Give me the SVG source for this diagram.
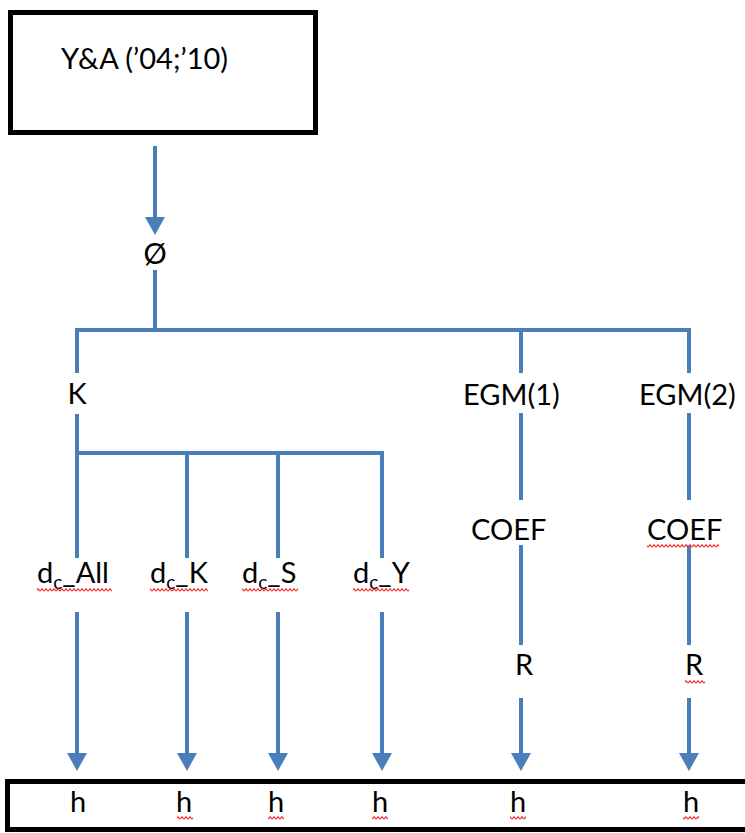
<svg xmlns="http://www.w3.org/2000/svg" width="745" height="833" viewBox="0 0 745 833">
<style>
.box{fill:#fff;stroke:#000;stroke-width:5}
.ln{fill:none;stroke:#4a7ebb;stroke-width:4}
.ar{marker-end:url(#ah)}
text{font-family:Lato,"Liberation Sans",sans-serif;font-size:29px;fill:#000}
.c{text-anchor:middle}
.sq{fill:url(#sq)}
</style>
<defs>
<marker id="ah" viewBox="0 0 9 10" markerWidth="4.5" markerHeight="5" refX="7" refY="5" orient="auto">
<path d="M0,0 L9,5 L0,10 z" fill="#4a7ebb"/>
</marker>
<pattern id="sq" width="4" height="4" patternUnits="userSpaceOnUse">
<path d="M0,3.2 L2,0.8 L4,3.2" fill="none" stroke="#f03a3a" stroke-width="1.3"/>
</pattern>
</defs>
<g id="connectors">
<path class="ln ar" d="M155,146 V231"/>
<path class="ln" d="M155,270 V330"/>
<path class="ln" d="M77,373 V330 H689 V373"/>
<path class="ln" d="M521,330 V373"/>
<path class="ln" d="M77,414 V558"/>
<path class="ln" d="M77,453 H382 V558"/>
<path class="ln" d="M187,453 V558"/>
<path class="ln" d="M278,453 V558"/>
<path class="ln ar" d="M77,612 V767"/>
<path class="ln ar" d="M187,612 V767"/>
<path class="ln ar" d="M278,612 V767"/>
<path class="ln ar" d="M382,612 V767"/>
<path class="ln" d="M521,413 V500"/>
<path class="ln" d="M689,413 V500"/>
<path class="ln" d="M521,545 V645"/>
<path class="ln" d="M689,545 V645"/>
<path class="ln ar" d="M521,698 V767"/>
<path class="ln ar" d="M689,698 V767"/>
</g>
<g id="node-ya">
<rect class="box" x="10.5" y="12.5" width="305" height="120"/>
<text x="61" y="69">Y&amp;A (’04;’10)</text>
</g>
<g id="node-phi"><text class="c" x="155" y="264">Ø</text></g>
<g id="node-k"><text class="c" x="77" y="404">K</text></g>
<g id="node-egm1"><text x="463" y="405">EGM(1)</text></g>
<g id="node-egm2"><text x="639" y="405">EGM(2)</text></g>
<g id="node-coef1"><text x="471" y="540">COEF</text></g>
<g id="node-coef2"><text x="647" y="540">COEF</text><rect class="sq" x="647" y="544" width="72" height="4"/></g>
<g id="node-r1"><text x="515" y="675">R</text></g>
<g id="node-r2"><text x="685" y="675">R</text><rect class="sq" x="685" y="680" width="20" height="4"/></g>
<g id="node-dcall"><text x="37" y="583">d<tspan font-size="19" dy="6">c</tspan><tspan dy="-6">_All</tspan></text><rect class="sq" x="37" y="588" width="75" height="4"/></g>
<g id="node-dck"><text x="150" y="583">d<tspan font-size="19" dy="6">c</tspan><tspan dy="-6">_K</tspan></text><rect class="sq" x="150" y="588" width="58" height="4"/></g>
<g id="node-dcs"><text x="242" y="583">d<tspan font-size="19" dy="6">c</tspan><tspan dy="-6">_S</tspan></text><rect class="sq" x="242" y="588" width="56" height="4"/></g>
<g id="node-dcy"><text x="353" y="583">d<tspan font-size="19" dy="6">c</tspan><tspan dy="-6">_Y</tspan></text><rect class="sq" x="353" y="588" width="56" height="4"/></g>
<g id="node-h">
<rect class="box" x="7.5" y="781.5" width="760" height="48"/>
<text class="c" x="78" y="812">h</text>
<text class="c" x="184" y="812">h</text>
<text class="c" x="276" y="812">h</text>
<text class="c" x="380" y="812">h</text>
<text class="c" x="518" y="812">h</text>
<text class="c" x="691" y="812">h</text>
<rect class="sq" x="177" y="816" width="16" height="4"/>
<rect class="sq" x="268" y="816" width="16" height="4"/>
<rect class="sq" x="372" y="816" width="16" height="4"/>
<rect class="sq" x="510" y="816" width="16" height="4"/>
<rect class="sq" x="683" y="816" width="16" height="4"/>
</g>
</svg>
